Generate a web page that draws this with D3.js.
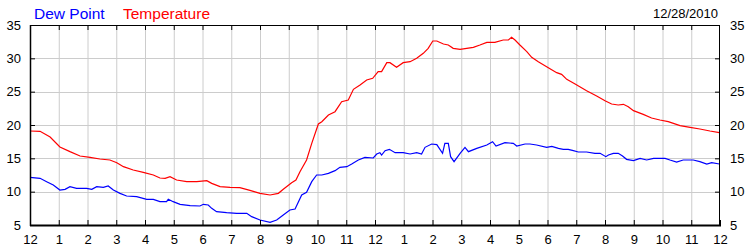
<!DOCTYPE html>
<html><head><meta charset="utf-8">
<script src="https://cdn.jsdelivr.net/npm/d3@7"></script>
<style>body{margin:0;background:#fff}svg{display:block}text{font-family:"Liberation Sans",Arial,sans-serif}</style>
</head><body><svg id="c" width="750" height="250"></svg>
<script>
const dateLabel = "12/28/2010";
const seriesNames = ["Dew Point", "Temperature"];
const hourLabels = ["12","1","2","3","4","5","6","7","8","9","10","11","12","1","2","3","4","5","6","7","8","9","10","11","12"];
const yTicks = [5,10,15,20,25,30,35];

const tempHours = [0.00,0.35,0.70,1.04,1.39,1.74,2.09,2.43,2.78,3.02,3.25,3.59,3.94,4.29,4.52,4.70,4.87,5.10,5.45,5.80,6.15,6.32,6.61,6.96,7.30,7.65,8.00,8.35,8.64,8.81,9.10,9.25,9.39,9.62,9.80,10.03,10.15,10.38,10.61,10.84,11.07,11.25,11.48,11.71,11.92,12.11,12.23,12.41,12.52,12.75,12.98,13.22,13.45,13.68,13.85,14.01,14.15,14.38,14.55,14.72,14.96,15.19,15.42,15.65,15.89,16.17,16.46,16.64,16.75,16.87,17.04,17.28,17.45,17.68,17.97,18.32,18.49,18.67,18.96,19.36,19.71,20.00,20.23,20.46,20.64,20.81,20.99,21.33,21.62,21.91,22.20,22.61,22.96,23.30,23.65,23.98];
const tempValues = [19.1,19.05,18.2,16.7,16.0,15.35,15.15,14.9,14.75,14.35,13.75,13.25,12.9,12.5,12.05,12.0,12.25,11.75,11.5,11.5,11.65,11.25,10.75,10.65,10.6,10.2,9.75,9.5,9.75,10.35,11.35,11.75,13.0,14.75,17.25,20.15,20.5,21.5,22.0,23.5,23.75,25.35,26.0,26.75,27.0,28.0,28.0,29.35,29.35,28.65,29.35,29.5,30.0,30.75,31.5,32.6,32.6,32.15,32.0,31.5,31.35,31.5,31.65,32.0,32.4,32.4,32.75,32.75,33.15,32.75,32.0,31.0,30.15,29.5,28.75,27.85,27.6,26.85,26.15,25.15,24.35,23.65,23.15,23.0,23.1,22.75,22.15,21.6,21.05,20.75,20.5,19.9,19.65,19.4,19.1,18.85];

const dewHours = [0.00,0.35,0.58,0.81,1.04,1.22,1.39,1.62,1.97,2.15,2.32,2.55,2.72,2.90,3.13,3.36,3.71,4.06,4.29,4.52,4.75,4.81,4.98,5.22,5.57,5.91,6.03,6.20,6.32,6.49,6.84,7.19,7.54,7.71,8.00,8.35,8.58,8.81,9.04,9.22,9.45,9.62,9.80,9.97,10.15,10.38,10.61,10.78,11.02,11.19,11.42,11.65,11.94,12.06,12.17,12.23,12.35,12.50,12.70,12.98,13.22,13.45,13.62,13.74,13.97,14.15,14.35,14.43,14.55,14.63,14.75,14.96,15.13,15.25,15.54,15.89,16.09,16.21,16.52,16.81,16.93,17.22,17.39,17.62,17.97,18.15,18.38,18.55,18.72,18.90,19.07,19.36,19.65,19.83,20.03,20.12,20.29,20.46,20.61,20.75,20.99,21.22,21.45,21.69,22.09,22.26,22.49,22.72,23.07,23.30,23.54,23.71,23.98];
const dewValues = [12.15,12.0,11.5,11.0,10.25,10.35,10.75,10.5,10.5,10.35,10.75,10.65,10.85,10.25,9.75,9.35,9.25,8.85,8.85,8.5,8.5,8.85,8.5,8.1,7.9,7.85,8.1,8.0,7.5,7.0,6.85,6.75,6.75,6.25,5.75,5.4,5.75,6.5,7.25,7.4,9.5,9.9,11.5,12.5,12.5,12.75,13.15,13.65,13.75,14.15,14.75,15.15,15.05,15.65,15.85,15.5,16.15,16.35,15.85,15.85,15.65,15.85,15.65,16.65,17.15,17.05,15.75,17.25,17.25,15.25,14.5,15.75,16.65,16.0,16.5,17.0,17.5,16.85,17.35,17.25,16.85,17.15,17.15,17.0,16.65,16.8,16.5,16.35,16.35,16.15,15.95,15.95,15.75,15.75,15.25,15.5,15.75,15.75,15.35,14.85,14.65,15.0,14.75,15.0,15.0,14.75,14.45,14.75,14.75,14.5,14.15,14.35,14.15];

const svg = d3.select("#c");
const L = 30, R = 720, T = 25, B = 225;
const x = d3.scaleLinear().domain([0, 24]).range([L, R]);
const y = d3.scaleLinear().domain([5, 35]).range([B, T]);
const hours = d3.range(0, 25);

// grid
svg.append("g").selectAll("line").data(hours.slice(1, -1)).join("line")
  .attr("x1", d => x(d) + 0.5).attr("x2", d => x(d) + 0.5).attr("y1", T).attr("y2", B)
  .attr("stroke", "#cccccc").attr("stroke-width", 1);
svg.append("g").selectAll("line").data(yTicks.slice(1, -1)).join("line")
  .attr("x1", L).attr("x2", R).attr("y1", d => Math.round(y(d)) + 0.5).attr("y2", d => Math.round(y(d)) + 0.5)
  .attr("stroke", "#cccccc").attr("stroke-width", 1);

// lines
const line = d3.line().x(d => x(d[0])).y(d => y(d[1]));
svg.append("path").datum(dewHours.map((h, i) => [h, dewValues[i]]))
  .attr("d", line).attr("fill", "none").attr("stroke", "#0000ff").attr("stroke-width", 1.2);
svg.append("path").datum(tempHours.map((h, i) => [h, tempValues[i]]))
  .attr("d", line).attr("fill", "none").attr("stroke", "#ff0000").attr("stroke-width", 1.2);

// frame
svg.append("rect").attr("x", L + 0.5).attr("y", T + 0.5).attr("width", R - L - 1).attr("height", B - T)
  .attr("fill", "none").attr("stroke", "#000").attr("stroke-width", 1);
svg.append("line").attr("x1", L).attr("x2", R + 1).attr("y1", B + 0.5).attr("y2", B + 0.5).attr("stroke", "#000").attr("stroke-width", 2);
svg.append("line").attr("x1", L + 0.5).attr("x2", L + 0.5).attr("y1", T).attr("y2", B + 1).attr("stroke", "#000").attr("stroke-width", 1.5);

// axes
const fmtHour = (d, i) => hourLabels[d];
svg.append("g").attr("transform", `translate(0,${B})`)
  .call(d3.axisBottom(x).tickValues(hours).tickSize(-5).tickPadding(10).tickFormat(fmtHour))
  .call(g => g.select(".domain").remove())
  .call(g => g.selectAll("text").attr("font-size", 13).attr("fill", "#000").attr("font-family", "Liberation Sans, Arial, sans-serif"));
svg.append("g").attr("transform", `translate(0,${T})`)
  .call(d3.axisTop(x).tickValues(hours.slice(1, -1)).tickSize(-5).tickFormat(""))
  .call(g => g.select(".domain").remove());
svg.append("g").attr("transform", `translate(${L},0)`)
  .call(d3.axisLeft(y).tickValues(yTicks).tickSize(-5).tickPadding(9).tickFormat(d3.format("d")))
  .call(g => g.select(".domain").remove())
  .call(g => g.selectAll("text").attr("font-size", 13).attr("fill", "#000").attr("font-family", "Liberation Sans, Arial, sans-serif"));
svg.append("g").attr("transform", `translate(${R},0)`)
  .call(d3.axisRight(y).tickValues(yTicks).tickSize(-5).tickPadding(10).tickFormat(d3.format("d")))
  .call(g => g.select(".domain").remove())
  .call(g => g.selectAll("text").attr("font-size", 13).attr("fill", "#000").attr("font-family", "Liberation Sans, Arial, sans-serif"));

// legend
svg.append("text").attr("x", 34).attr("y", 19).attr("font-size", 15.5).attr("fill", "#0000ff").text(seriesNames[0]);
svg.append("text").attr("x", 123).attr("y", 19).attr("font-size", 15.5).attr("fill", "#ff0000").text(seriesNames[1]);
svg.append("text").attr("x", 718).attr("y", 18).attr("text-anchor", "end").attr("font-size", 13).attr("fill", "#000").text(dateLabel);
</script></body></html>
